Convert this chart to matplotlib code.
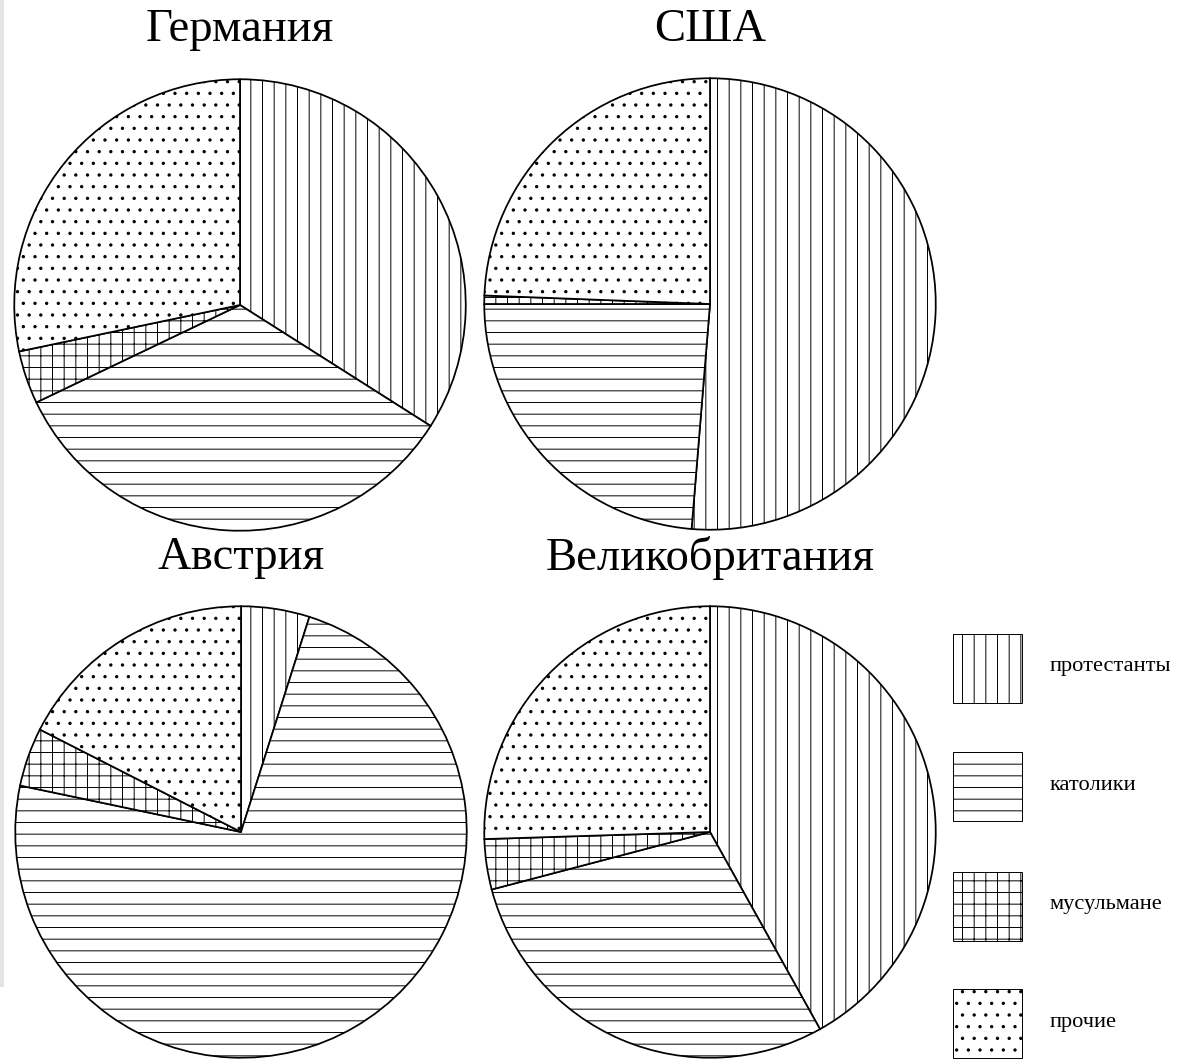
import matplotlib.pyplot as plt
from matplotlib.patches import Rectangle

# religious composition, % of population
countries = ["Германия", "США", "Австрия", "Великобритания"]
protestants = [34.0, 51.3, 4.9, 41.9]
catholics = [33.9, 23.7, 73.4, 29.0]
muslims = [3.8, 0.6, 4.2, 3.6]
others = [28.3, 24.4, 17.5, 25.5]
group_labels = ["протестанты", "католики", "мусульмане", "прочие"]

hatches = ["|", "-", "+", "."]

W, H, DPI = 1187, 1059, 70
plt.rcParams["hatch.linewidth"] = 1.0
plt.rcParams["hatch.color"] = "#333333"
serif = ["Liberation Serif", "DejaVu Serif"]

fig = plt.figure(figsize=(W / DPI, H / DPI), dpi=DPI)
fig.patch.set_facecolor("white")

# thin grey strip on the left edge
fig.add_artist(Rectangle((0, 1 - 987 / H), 4 / W, 987 / H, transform=fig.transFigure,
                         facecolor="#e4e4e4", edgecolor="none"))

# pie centres in pixels, and title positions
centres = [(240, 305), (710, 304), (241, 832), (710, 832)]
title_y = [30, 30, 558, 558]
R = 228

for i, name in enumerate(countries):
    cx, cy = centres[i]
    ax = fig.add_axes([(cx - R) / W, 1 - (cy + R) / H, 2 * R / W, 2 * R / H])
    vals = [protestants[i], catholics[i], muslims[i], others[i]]
    wedges, _ = ax.pie(vals, startangle=90, counterclock=False, radius=1.0,
                       wedgeprops=dict(facecolor="white", edgecolor="black", linewidth=1.8))
    for w, h in zip(wedges, hatches):
        w.set_hatch(h)
    ax.set_xlim(-1.01, 1.01)
    ax.set_ylim(-1.01, 1.01)
    ax.set_aspect("equal")
    ax.axis("off")
    fig.text(cx / W, 1 - title_y[i] / H, name, ha="center", va="center",
             fontsize=48, family=serif)

# legend boxes on the right
box_tops = [634, 752, 872, 989]
for top, lab, h in zip(box_tops, group_labels, hatches):
    fig.add_artist(Rectangle((953 / W, 1 - (top + 69) / H), 69 / W, 69 / H,
                             transform=fig.transFigure, facecolor="white",
                             edgecolor="black", linewidth=1.0, hatch=h))
    fig.text(1050 / W, 1 - (top + 33) / H, lab, ha="left", va="center",
             fontsize=23, family=serif)

fig.savefig("out.png", dpi=DPI)
